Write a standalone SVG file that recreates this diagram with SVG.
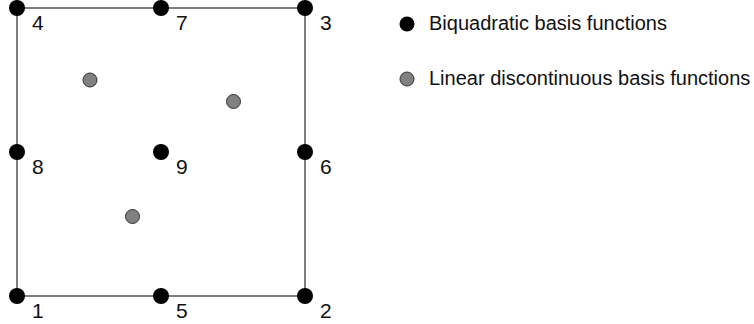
<svg xmlns="http://www.w3.org/2000/svg" width="754" height="324" viewBox="0 0 754 324">
<style>
.edge{stroke:#555;stroke-width:1.5;fill:none}
.bq{fill:#000}
.ld{fill:#808080;stroke:#333;stroke-width:1}
.lbl{font-family:"Liberation Sans",Arial,sans-serif;font-size:21px;fill:#111}
.leg{font-family:"Liberation Sans",Arial,sans-serif;font-size:20px;fill:#111}
</style>
<rect width="754" height="324" fill="#fff"/>
<g id="connectors">
<rect class="edge" x="17" y="8" width="288" height="288"/>
</g>
<g id="n4"><circle class="bq" cx="17" cy="8" r="8"/><text class="lbl" x="32" y="30">4</text></g>
<g id="n7"><circle class="bq" cx="161" cy="8" r="8"/><text class="lbl" x="176" y="30">7</text></g>
<g id="n3"><circle class="bq" cx="305" cy="8" r="8"/><text class="lbl" x="320" y="30">3</text></g>
<g id="n8"><circle class="bq" cx="17" cy="152" r="8"/><text class="lbl" x="32" y="174">8</text></g>
<g id="n9"><circle class="bq" cx="161" cy="152" r="8"/><text class="lbl" x="176" y="174">9</text></g>
<g id="n6"><circle class="bq" cx="305" cy="152" r="8"/><text class="lbl" x="320" y="174">6</text></g>
<g id="n1"><circle class="bq" cx="17" cy="296" r="8"/><text class="lbl" x="32" y="318">1</text></g>
<g id="n5"><circle class="bq" cx="161" cy="296" r="8"/><text class="lbl" x="176" y="318">5</text></g>
<g id="n2"><circle class="bq" cx="305" cy="296" r="8"/><text class="lbl" x="320" y="318">2</text></g>
<g id="d1"><circle class="ld" cx="90" cy="80" r="7"/></g>
<g id="d2"><circle class="ld" cx="233.5" cy="101.5" r="7"/></g>
<g id="d3"><circle class="ld" cx="132.5" cy="216.5" r="7"/></g>
<g id="legend-bq"><circle class="bq" cx="407" cy="24" r="7.5"/><text class="leg" x="429" y="30">Biquadratic basis functions</text></g>
<g id="legend-ld"><circle class="ld" cx="407" cy="79" r="7"/><text class="leg" x="429" y="85">Linear discontinuous basis functions</text></g>
</svg>
